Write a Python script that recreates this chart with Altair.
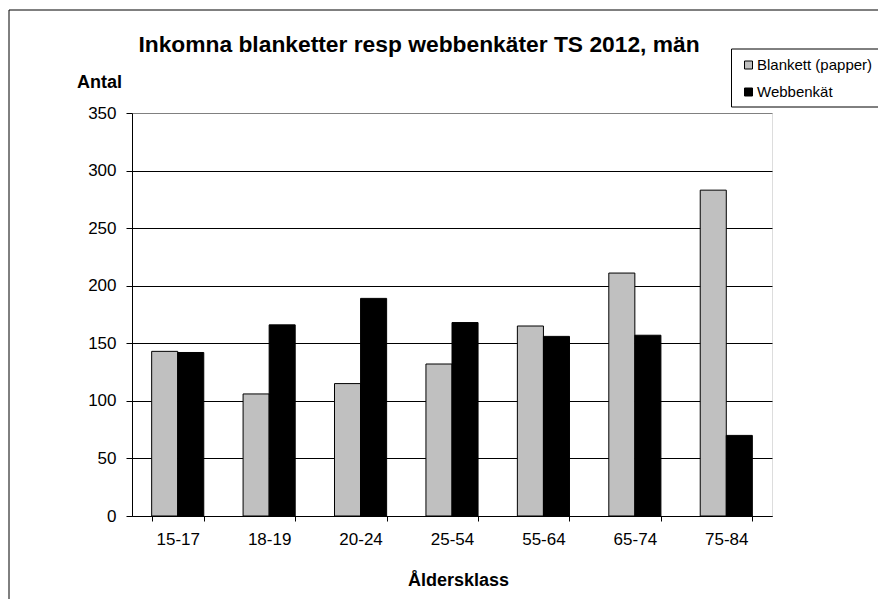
import altair as alt
import pandas as pd

categories = ["15-17", "18-19", "20-24", "25-54", "55-64", "65-74", "75-84"]
series_names = ["Blankett (papper)", "Webbenkät"]
blankett = [143, 106, 115, 132, 165, 211, 283]
webb = [142, 166, 189, 168, 156, 157, 70]
y_ticks = [0, 50, 100, 150, 200, 250, 300, 350]

rows = []
for c, b, w in zip(categories, blankett, webb):
    rows.append({"klass": c, "serie": series_names[0], "antal": b})
    rows.append({"klass": c, "serie": series_names[1], "antal": w})
df = pd.DataFrame(rows)

FONT = "Liberation Sans"
W, H = 640, 403

bars = alt.Chart(df).mark_bar(stroke="black", strokeWidth=1).encode(
    x=alt.X("klass:N", sort=categories,
            scale=alt.Scale(paddingInner=0.43, paddingOuter=0.215),
            axis=alt.Axis(title="Åldersklass", labelAngle=0, tickBand="extent",
                          tickSize=5, labelPadding=10, labelFontSize=17,
                          labelFont=FONT, labelColor="black",
                          domainColor="black", tickColor="black",
                          titleFont=FONT, titleFontSize=18, titleFontWeight="bold",
                          titleX=326, titleY=69, titleBaseline="alphabetic",
                          titleAlign="center", titleColor="black", grid=False)),
    xOffset=alt.XOffset("serie:N", sort=series_names),
    y=alt.Y("antal:Q",
            scale=alt.Scale(domain=[0, 350], nice=False),
            axis=alt.Axis(title="Antal", values=y_ticks, tickSize=6, labelPadding=10,
                          labelFontSize=17, labelFont=FONT, labelColor="black",
                          domainColor="black", tickColor="black",
                          grid=True,
                          gridColor={"condition": {"test": "datum.value == 350", "value": "#808080"},
                                     "value": "black"},
                          gridWidth=1,
                          titleAngle=0, titleX=-33, titleY=-25.5,
                          titleAlign="center", titleBaseline="alphabetic",
                          titleFont=FONT, titleFontSize=18, titleFontWeight="bold",
                          titleColor="black")),
    color=alt.Color("serie:N", sort=series_names,
                    scale=alt.Scale(domain=series_names, range=["#C0C0C0", "#000000"]),
                    legend=alt.Legend(title=None, orient="none", legendX=609, legendY=-55.5,
                                      symbolType="square", symbolSize=64,
                                      symbolStrokeColor="black", symbolStrokeWidth=1,
                                      labelFont=FONT, labelFontSize=15, labelColor="black",
                                      labelOffset=1, rowPadding=11, padding=0,
                                      labelLimit=400)),
)

frame = alt.Chart(alt.Data(values=[{}])).mark_rect(
    fillOpacity=0, stroke="black", strokeWidth=1
).encode(
    x=alt.value(-123), x2=alt.value(W + 300),
    y=alt.value(-103), y2=alt.value(H + 300),
)

legend_box = alt.Chart(alt.Data(values=[{}])).mark_rect(
    fill="white", stroke="black", strokeWidth=1
).encode(
    x=alt.value(599.5), x2=alt.value(W + 300),
    y=alt.value(-64), y2=alt.value(-6),
)

chart = alt.layer(frame, legend_box, bars).properties(
    width=W, height=H,
    autosize=alt.AutoSizeParams(type="none"),
    padding={"left": 124, "top": 105, "right": 106, "bottom": 83},
    title=alt.TitleParams(
        "Inkomna blanketter resp webbenkäter TS 2012, män",
        font=FONT, fontSize=22.8, fontWeight="bold", color="black",
        anchor="middle", dx=-33, dy=65.5, offset=0, baseline="alphabetic",
    ),
).configure_view(stroke="#808080", strokeWidth=1).configure(background="white")

chart.save("out.html", embed_options={"renderer": "svg", "actions": False})
